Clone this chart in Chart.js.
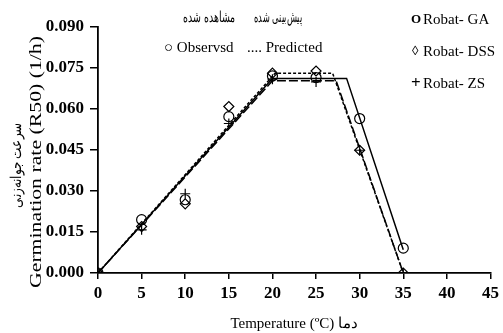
<!DOCTYPE html>
<html><head><meta charset="utf-8">
<script src="https://cdn.jsdelivr.net/npm/chart.js@4/dist/chart.umd.min.js"></script>
<style>html,body{margin:0;padding:0;background:#fff}#wrap{width:503px;height:333px}</style>
</head><body><div id="wrap"><canvas id="c" width="503" height="333"></canvas></div>
<script>
const temps = [0, 5, 10, 15, 20, 25, 30, 35];
const obsGA  = [0, 0.0195, 0.0268, 0.0572, 0.0721, 0.0715, 0.0565, 0.0091];
const obsDSS = [0, 0.0170, 0.0253, 0.0609, 0.0731, 0.0739, 0.0449, 0.0];
const obsZS  = [0, 0.0158, 0.0290, 0.0547, 0.0709, 0.0699, 0.0449, 0.0];
const predGAx  = [0, 20, 28.5, 35];
const predGAy  = [0, 0.0712, 0.0712, 0.0085];
const predDSSx = [0, 20.3, 26.9, 35];
const predDSSy = [0, 0.0731, 0.0731, 0];
const predZSx  = [0, 20, 27.3, 35];
const predZSy  = [0, 0.0703, 0.0703, 0];
const xTicks = [0, 5, 10, 15, 20, 25, 30, 35, 40, 45];
const yTicks = [0, 0.015, 0.030, 0.045, 0.060, 0.075, 0.090];

const pts = (xs, ys) => xs.map((x, i) => ({x: x, y: ys[i]}));
const SERIF = '"Liberation Serif", "DejaVu Serif", serif';

const lineDs = (xs, ys, dash) => ({
  type: 'scatter', data: pts(xs, ys), showLine: true, borderColor: '#000',
  borderWidth: 1.5, borderDash: dash, pointRadius: 0, fill: false, order: 2
});
const ptDs = (ys, style, r) => ({
  type: 'scatter', data: pts(temps, ys), showLine: false, pointStyle: style,
  pointRadius: r, borderColor: '#000', backgroundColor: 'rgba(0,0,0,0)',
  pointBorderWidth: 1.2, order: 1
});

function fitText(ctx, text, cx, cy, targetW, rotate) {
  ctx.save();
  ctx.translate(cx, cy);
  if (rotate) ctx.rotate(-Math.PI / 2);
  const w = ctx.measureText(text).width;
  ctx.scale(targetW / w, 1);
  ctx.textAlign = 'center';
  ctx.fillText(text, 0, 0);
  ctx.restore();
}

const textPlugin = {
  id: 'texts',
  afterDraw(chart) {
    const ctx = chart.ctx;
    ctx.save();
    ctx.fillStyle = '#000';
    ctx.textBaseline = 'middle';
    // top legend persian
    ctx.font = '15px ' + SERIF;
    fitText(ctx, 'مشاهده شده', 209, 18, 52, false);
    fitText(ctx, 'پیش‌بینی شده', 278, 18, 48, false);
    ctx.textAlign = 'left';
    ctx.fillText('○ Observsd', 164, 48);
    ctx.fillText('.... Predicted', 247, 48);
    // right legend
    ctx.font = 'bold 13px ' + SERIF;
    ctx.fillText('O', 411, 20);
    ctx.fillText('◊', 412, 52);
    ctx.font = 'bold 17px ' + SERIF;
    ctx.fillText('+', 411, 84);
    ctx.font = '15px ' + SERIF;
    ctx.fillText('Robat- GA', 423, 20);
    ctx.fillText('Robat- DSS', 423, 52);
    ctx.fillText('Robat- ZS', 423, 84);
    // y titles
    ctx.font = '16px ' + SERIF;
    fitText(ctx, 'Germination rate (R50) (1/h)', 37, 162, 252, true);
    ctx.font = '15px ' + SERIF;
    fitText(ctx, 'سرعت جوانه‌زنی', 17, 165, 85, true);
    ctx.restore();
  }
};

new Chart(document.getElementById('c'), {
  type: 'scatter',
  data: { datasets: [
    lineDs(predGAx, predGAy, []),
    lineDs(predDSSx, predDSSy, [3, 2]),
    lineDs(predZSx, predZSy, [9, 3]),
    ptDs(obsGA, 'circle', 5),
    ptDs(obsDSS, 'rectRot', 5),
    ptDs(obsZS, 'cross', 5)
  ]},
  options: {
    responsive: false, animation: false,
    layout: { padding: { left: 0, right: 12, top: 27, bottom: 0 } },
    plugins: { legend: { display: false }, tooltip: { enabled: false } },
    scales: {
      x: {
        type: 'linear', min: 0, max: 45,
        afterBuildTicks: s => { s.ticks = xTicks.map(v => ({value: v})); },
        afterFit: s => { s.height = 60; },
        grid: { drawOnChartArea: false, tickLength: 6, color: '#000', lineWidth: 1.5 },
        border: { display: true, color: '#000', width: 1.8 },
        ticks: { color: '#000', padding: 4, maxRotation: 0, font: { family: SERIF, size: 17, weight: 'bold' } },
        title: { display: true, text: 'Temperature (ºC) دما', color: '#000', padding: { top: 3, bottom: 0 }, font: { family: SERIF, size: 15 } }
      },
      y: {
        type: 'linear', min: 0, max: 0.09,
        afterBuildTicks: s => { s.ticks = yTicks.map(v => ({value: v})); },
        afterFit: s => { s.width = 98; },
        grid: { drawOnChartArea: false, tickLength: 8, color: '#000', lineWidth: 1.5 },
        border: { display: true, color: '#000', width: 1.8 },
        ticks: { color: '#000', padding: 6, callback: v => v.toFixed(3), font: { family: SERIF, size: 17, weight: 'bold' } },
        title: { display: false }
      }
    }
  },
  plugins: [textPlugin]
});
</script></body></html>
